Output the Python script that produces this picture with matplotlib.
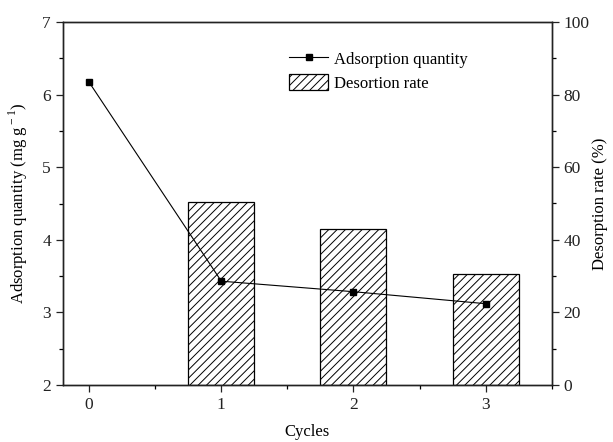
import numpy as np
import matplotlib.pyplot as plt
from matplotlib.ticker import MultipleLocator

plt.rcParams['font.family'] = ['Liberation Serif', 'DejaVu Serif']
plt.rcParams['mathtext.fontset'] = 'custom'
plt.rcParams['mathtext.rm'] = 'Liberation Serif'
plt.rcParams['hatch.linewidth'] = 0.7

# data
cycles = [0, 1, 2, 3]
adsorption = [6.17, 3.43, 3.285, 3.12]
bar_cycles = [1, 2, 3]
desorption = [50.3, 43.0, 30.5]

fig = plt.figure(figsize=(6.13, 4.42), dpi=100)
ax = fig.add_axes([62.7/613, 1 - 385/442, (551.7-62.7)/613, (385-22)/442])
ax2 = ax.twinx()

bars = ax2.bar(bar_cycles, desorption, width=0.5, facecolor='white',
               edgecolor='black', hatch='////', linewidth=0.9,
               label='Desortion rate')
line, = ax.plot(cycles, adsorption, color='black', lw=0.8, marker='s',
                ms=5, label='Adsorption quantity')

# line sits above the bars
ax.set_zorder(ax2.get_zorder() + 1)
ax.patch.set_visible(False)

ax.set_xlim(-0.2, 3.5)
ax.set_ylim(2, 7)
ax2.set_ylim(0, 100)
ax.set_xticks(cycles)
ax.xaxis.set_minor_locator(MultipleLocator(0.5))
ax.yaxis.set_minor_locator(MultipleLocator(0.5))
ax2.set_yticks([0, 20, 40, 60, 80, 100])
ax2.yaxis.set_minor_locator(MultipleLocator(10))

for a in (ax, ax2):
    a.tick_params(which='major', direction='out', length=5, width=0.9,
                  labelsize=12.5, colors='#222222')
    a.tick_params(which='minor', direction='out', length=3, width=0.9)
    for s in a.spines.values():
        s.set_linewidth(1.0)
        s.set_color('#222222')

ax.set_xlabel('Cycles', fontsize=12, labelpad=8)
ax.set_ylabel(r'Adsorption quantity (mg g$^{\rm -1}$)', fontsize=12, labelpad=9)
ax2.set_ylabel('Desorption rate (%)', fontsize=12, labelpad=2)

ax.legend([line, bars], ['Adsorption quantity', 'Desortion rate'],
          loc='upper left', bbox_to_anchor=(0.45, 0.94), frameon=False,
          fontsize=12, handlelength=2.3, handleheight=1.1, handletextpad=0.4,
          labelspacing=0.35, borderaxespad=0)

fig.savefig('out.png', dpi=100)
